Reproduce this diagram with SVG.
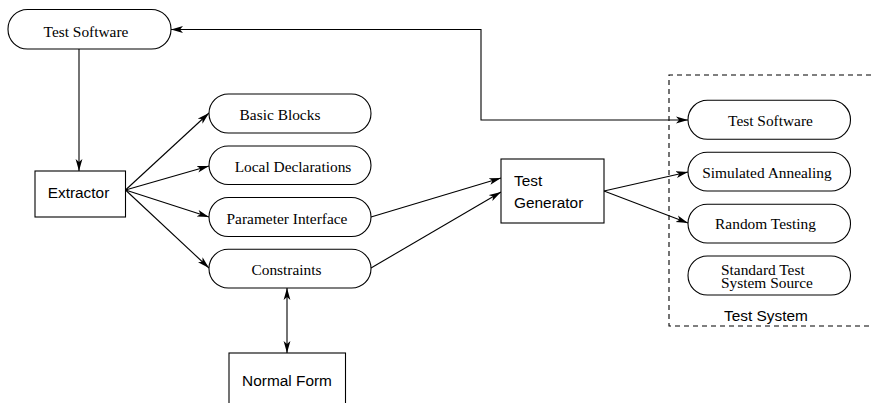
<svg xmlns="http://www.w3.org/2000/svg" width="872" height="403" viewBox="0 0 872 403">
<style>
.rnd{fill:#fff;stroke:#000;stroke-width:1.1}
.box{fill:#fff;stroke:#000;stroke-width:1.1}
.ser{font-family:"Liberation Serif","Times New Roman",serif;font-size:15.4px;fill:#000}
.san{font-family:"Liberation Sans",Arial,sans-serif;font-size:15.4px;fill:#000}
.c{text-anchor:middle}
.ln{fill:none;stroke:#000;stroke-width:1.1}
.end{marker-end:url(#ah)}
.both{marker-start:url(#ah);marker-end:url(#ah)}
</style>
<defs>
<marker id="ah" markerUnits="userSpaceOnUse" viewBox="0 0 12 8" markerWidth="12" markerHeight="8" refX="12" refY="4" orient="auto-start-reverse">
<path d="M0,0.6 L12,4 L0,7.4 L3,4 z" fill="#000"/>
</marker>
</defs>
<rect width="872" height="403" fill="#fff"/>
<g id="connectors">
<path class="ln end" d="M79,49 V171"/>
<path class="ln end" d="M125.5,190 L209,113"/>
<path class="ln end" d="M125.5,190 L209,166"/>
<path class="ln end" d="M125.5,190 L209,217"/>
<path class="ln end" d="M125.5,190 L209,268"/>
<path class="ln end" d="M371,217 L501,178"/>
<path class="ln end" d="M371,268 L501,192"/>
<path class="ln end" d="M604,191 L688,172"/>
<path class="ln end" d="M604,191 L688,223"/>
<path class="ln both" d="M171,29.5 H481 V120 H688"/>
<path class="ln both" d="M287,288 V353"/>
</g>
<g id="test-system">
<path d="M880,75 H669 V326 H880" fill="none" stroke="#000" stroke-width="1.1" stroke-dasharray="5,4"/>
<text class="san c" x="766" y="321">Test System</text>
</g>
<g id="test-software-left">
<rect class="rnd" x="8" y="9.5" width="163" height="39.5" rx="19.5"/>
<text class="ser c" x="86" y="36.5">Test Software</text>
</g>
<g id="extractor">
<rect class="box" x="35" y="171" width="90.5" height="46"/>
<text class="san c" x="78.5" y="198">Extractor</text>
</g>
<g id="basic-blocks">
<rect class="rnd" x="209" y="94" width="162" height="39" rx="19.5"/>
<text class="ser c" x="280" y="120">Basic Blocks</text>
</g>
<g id="local-declarations">
<rect class="rnd" x="209" y="146" width="162" height="38.5" rx="19.25"/>
<text class="ser c" x="293" y="172">Local Declarations</text>
</g>
<g id="parameter-interface">
<rect class="rnd" x="209" y="197.5" width="162" height="39" rx="19.5"/>
<text class="ser c" x="287" y="224.3">Parameter Interface</text>
</g>
<g id="constraints">
<rect class="rnd" x="209" y="249.3" width="162" height="38.7" rx="19.3"/>
<text class="ser c" x="286.5" y="275.3">Constraints</text>
</g>
<g id="normal-form">
<rect class="box" x="229" y="353" width="116.5" height="60"/>
<text class="san c" x="287" y="385.7">Normal Form</text>
</g>
<g id="test-generator">
<rect class="box" x="501" y="159" width="103" height="64"/>
<text class="san" x="514" y="185.7">Test</text>
<text class="san" x="514" y="208.3">Generator</text>
</g>
<g id="test-software-right">
<rect class="rnd" x="688" y="100.3" width="162.5" height="39" rx="19.5"/>
<text class="ser c" x="770.5" y="125.7">Test Software</text>
</g>
<g id="simulated-annealing">
<rect class="rnd" x="688" y="152.3" width="162.5" height="38.7" rx="19.3"/>
<text class="ser c" x="767" y="178.3">Simulated Annealing</text>
</g>
<g id="random-testing">
<rect class="rnd" x="688" y="204.3" width="162.5" height="38.7" rx="19.3"/>
<text class="ser c" x="765.5" y="229.3">Random Testing</text>
</g>
<g id="standard-test-system-source">
<rect class="rnd" x="688" y="256" width="162.5" height="39" rx="19.5"/>
<text class="ser" x="721" y="275">Standard Test</text>
<text class="ser" x="721" y="288">System Source</text>
</g>
</svg>
